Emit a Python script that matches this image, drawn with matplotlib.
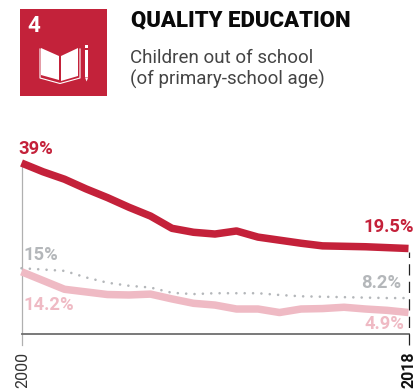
import matplotlib
matplotlib.use('Agg')
import matplotlib.pyplot as plt
from matplotlib.patches import Polygon, Rectangle

plt.rcParams['font.family'] = ['Roboto', 'DejaVu Sans']

years = list(range(2000, 2019))
# out of school, percent
red_line = [39, 37.0, 35.3, 33.1, 31.1, 28.9, 26.9, 24.1, 23.2, 22.8, 23.5, 22.1, 21.4, 20.7, 20.1, 20.0, 19.9, 19.7, 19.5]
pink_line = [14.2, 12.2, 10.2, 9.6, 9.0, 8.9, 9.1, 8.0, 7.0, 6.6, 5.7, 5.7, 4.9, 5.7, 5.8, 6.1, 5.7, 5.4, 4.9]
dotted = [15, 14.7, 14.4, 12.9, 11.7, 11.0, 10.6, 9.4, 9.1, 9.3, 9.3, 9.3, 8.9, 8.6, 8.5, 8.4, 8.3, 8.2, 8.2]

RED = '#C4213A'
PINK = '#EFBAC4'
GREY = '#B4B7BA'

W, H = 415, 390
fig = plt.figure(figsize=(W / 100, H / 100), dpi=100)

# chart axes, 2000 at x=21.5 and 0% at y=334
ax = fig.add_axes([21.5 / W, (H - 334) / H, 387 / W, 171 / H])
ax.set_xlim(2000, 2018)
ax.set_ylim(0, 39)
ax.axis('off')

ax.plot(years, dotted, color=GREY, lw=1.9, ls=(0, (0.01, 3.16)), dash_capstyle='round', clip_on=False, zorder=2)
ax.plot(years, pink_line, color=PINK, lw=5.4, solid_capstyle='butt', solid_joinstyle='round', clip_on=False, zorder=3)
ax.plot(years, red_line, color=RED, lw=5.4, solid_capstyle='butt', solid_joinstyle='round', clip_on=False, zorder=3)

# axis lines
ax.plot([2000, 2000], [-2.6, 38.4], color='#B0B0B0', lw=0.9, clip_on=False, zorder=1)
ax.plot([2000, 2018], [0, 0], color='#6E6E6E', lw=1.3, clip_on=False, zorder=1)
ax.plot([2018, 2018], [-2.6, 18.7], color='#222222', lw=0.9, ls=(0, (9, 5)), clip_on=False, zorder=1)

# overlay in pixels for the header and labels
ov = fig.add_axes([0, 0, 1, 1], facecolor='none')
ov.set_xlim(0, W)
ov.set_ylim(H, 0)
ov.axis('off')

ov.add_patch(Rectangle((20, 9), 87, 87, color='#C3223A', lw=0))
ov.text(33.5, 26.5, '4', color='white', fontsize=16, fontweight='bold', ha='center', va='center',
        family=['Liberation Sans Narrow', 'Roboto'])
ov.add_patch(Polygon([(41, 48), (59, 56), (59, 80), (41, 75)], color='white', lw=0))
ov.add_patch(Polygon([(61, 56), (78, 48), (78, 76), (61, 81)], color='white', lw=0))
ov.plot([40, 40, 60, 80, 80], [49, 78, 83.5, 78, 49], color='white', lw=0.8)
ov.add_patch(Rectangle((85, 50), 3.2, 27, color='white', lw=0))
ov.add_patch(Rectangle((85.4, 44.5), 2.4, 3.5, color='white', lw=0))
ov.add_patch(Polygon([(85, 77.5), (88.2, 77.5), (86.6, 81.5)], color='white', lw=0))

ov.text(131, 20, 'QUALITY EDUCATION', color='#0A0A0A', fontsize=15.9, fontweight='black', ha='left', va='center')
ov.text(130, 58, 'Children out of school', color='#444444', fontsize=13.5, ha='left', va='center')
ov.text(130, 79.5, '(of primary-school age)', color='#444444', fontsize=13.5, ha='left', va='center')

ov.text(18, 149, '39%', color=RED, fontsize=13.2, fontweight='bold', ha='left', va='center')
ov.text(414, 227, '19.5%', color=RED, fontsize=13.2, fontweight='bold', ha='right', va='center')
ov.text(23, 255, '15%', color=GREY, fontsize=13.2, fontweight='bold', ha='left', va='center')
ov.text(401, 283, '8.2%', color=GREY, fontsize=13.2, fontweight='bold', ha='right', va='center')
ov.text(23, 305, '14.2%', color=PINK, fontsize=13.2, fontweight='bold', ha='left', va='center')
ov.text(404, 324, '4.9%', color=PINK, fontsize=13.2, fontweight='bold', ha='right', va='center')

ov.text(23, 352, '2000', color='#333333', fontsize=11.5, rotation=90, ha='center', va='top')
ov.text(409, 352, '2018', color='#111111', fontsize=11.5, fontweight='bold', rotation=90, ha='center', va='top')

fig.savefig('out.png', dpi=100)
